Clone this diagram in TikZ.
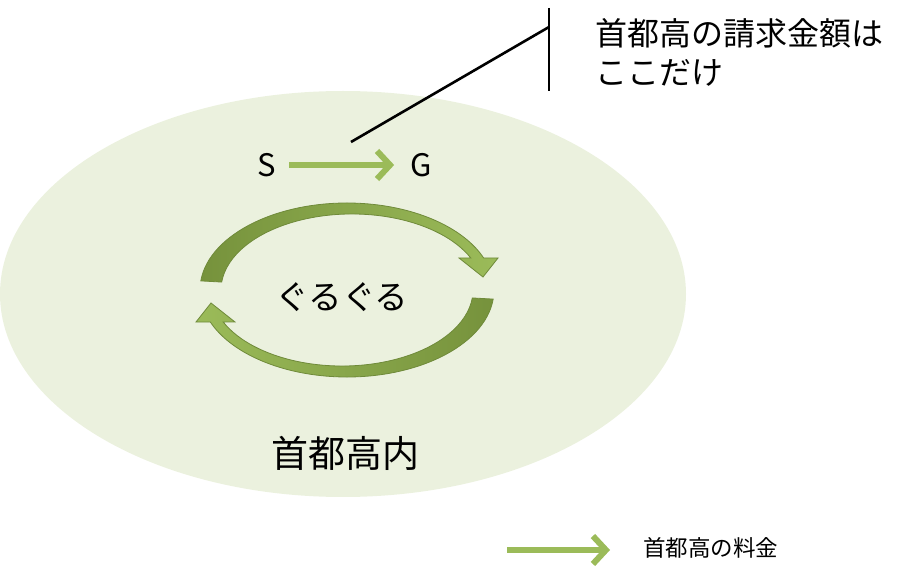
\documentclass[tikz,border=0pt]{standalone}
\usepackage{fontspec}
\usepackage{xcolor}
\usepackage{tikz}
\usetikzlibrary{positioning,arrows.meta}
\setmainfont{Noto Sans CJK JP}
\definecolor{areafill}{HTML}{EBF1DE}
\definecolor{feegreen}{HTML}{9BBB59}
\definecolor{loopdark}{HTML}{76923C}
\definecolor{loopedge}{HTML}{6F8A3A}

\begin{document}
\begin{tikzpicture}[
        x=1pt, y=-1pt,
        every node/.style={
            inner sep=0pt,
            text=black,
            font=\fontsize{31}{39}\selectfont
        },
        feearrow/.style={
            draw=feegreen,
            line width=6pt,
            -{Straight Barb[length=13pt, width=28pt]}
        },
        callout/.style={
            draw=black,
            line width=2.6pt
        },
        loopup/.style={
            draw=loopedge,
            line width=0.8pt,
            left color=loopdark,
            right color=feegreen
        },
        loopdown/.style={
            draw=loopedge,
            line width=0.8pt,
            left color=feegreen,
            right color=loopdark
        }
    ]
        \useasboundingbox (0,0) rectangle (922,588);

        % area of the expressway
        \fill[areafill] (343,294) ellipse [x radius=343, y radius=203];

        % round and round
        \path[loopup] (347,290) ++(186:147 and 87)
            arc[start angle=186, end angle=338.4, x radius=147, y radius=87]
            -- (498,258) -- (483,277) -- (459,258) -- (470.8,258)
            arc[start angle=335.1, end angle=186, x radius=131, y radius=76]
            -- cycle;
        \path[loopdown] (347,290) ++(6:147 and 87)
            arc[start angle=6, end angle=158.4, x radius=147, y radius=87]
            -- (196,322) -- (211,303) -- (235,322) -- (223.2,322)
            arc[start angle=155.1, end angle=6, x radius=131, y radius=76]
            -- cycle;

        \node (loop) at (342,297) [font=\fontsize{33.5}{40}\selectfont] {ぐるぐる};
        \node (area) at (345,453) [font=\fontsize{37}{44}\selectfont] {首都高内};

        % start and goal
        \node (s) at (267,165) {S};
        \node (g) at (421,165) {G};
        \draw[feearrow, shorten <=13pt, shorten >=16pt] (s) -- (g);

        % callout
        \node (note) [anchor=west, align=left, font=\fontsize{32}{39}\selectfont] at (595,52) {首都高の請求金額は\\ここだけ};
        \coordinate (bartop) at (549,8);
        \coordinate (barbot) at (549,91);
        \coordinate (barknee) at (549,27);
        \coordinate (ptr) at (351,142);
        \draw[callout] (bartop) -- (barbot);
        \draw[callout] (barknee) -- (ptr);

        % legend
        \node (legend) [anchor=west, font=\fontsize{22.5}{27}\selectfont] at (643,548) {首都高の料金};
        \coordinate (legstart) at (507,550);
        \draw[feearrow, shorten >=33pt] (legstart) -- (legend.west |- legstart);
    \end{tikzpicture}
\end{document}
